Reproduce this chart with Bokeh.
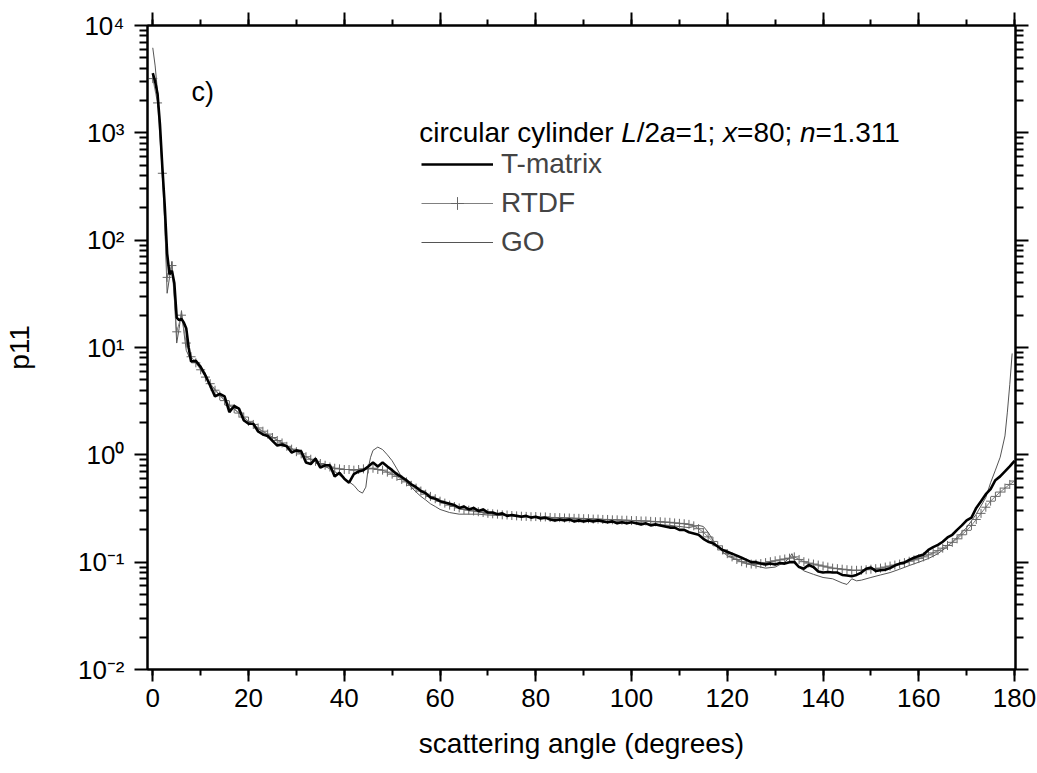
import math
from bokeh.plotting import figure
from bokeh.models import (Range1d, LinearAxis, LogAxis, FixedTicker, SingleIntervalTicker,
                          CustomJSTickFormatter, Legend, LegendItem, Label)
from bokeh.embed import file_html
from bokeh.resources import INLINE

# ---------------- data ----------------
tm_angle = [0, 0.5, 1, 1.5, 2, 2.5, 3, 3.5, 4, 4.5, 5, 5.5, 6, 6.5, 7, 7.5,
            8, 9, 10, 11, 12, 13, 14, 15, 16, 17, 18, 19, 20, 21, 22, 23, 24, 25,
            26, 27, 28, 29, 30, 31, 32, 33, 34, 35, 36, 37, 38, 39, 40, 41, 42, 43,
            44, 45, 46, 47, 48, 49, 50, 51, 52, 53, 54, 55, 56, 57, 58, 59, 60, 61,
            62, 63, 64, 65, 66, 67, 68, 69, 70, 71, 72, 73, 74, 75, 76, 77, 78, 79,
            80, 81, 82, 83, 84, 85, 86, 87, 88, 89, 90, 91, 92, 93, 94, 95, 96, 97,
            98, 99, 100, 101, 102, 103, 104, 105, 106, 107, 108, 109, 110, 111, 112,
            113, 114, 115, 116, 117, 118, 119, 120, 121, 122, 123, 124, 125, 126, 127,
            128, 129, 130, 131, 132, 133, 134, 135, 136, 137, 138, 139, 140, 141, 142,
            143, 144, 145, 146, 147, 148, 149, 150, 151, 152, 153, 154, 155, 156, 157,
            158, 159, 160, 161, 162, 163, 164, 165, 166, 167, 168, 169, 170, 171, 172,
            173, 174, 175, 176, 177, 178, 179, 180]
tm_p11 = [3600, 3000, 2300, 1200, 480, 210, 75, 48, 52, 40, 19, 18, 18.5, 17, 15, 10,
          7.4, 7.5, 6.6, 5.5, 4.4, 3.5, 3.7, 3.5, 2.5, 2.85, 2.7, 2.1, 1.95, 1.95, 1.65,
          1.55, 1.5, 1.35, 1.22, 1.25, 1.2, 1.05, 1.1, 1.08, 0.85, 0.82, 0.92, 0.76, 0.8,
          0.8, 0.63, 0.68, 0.6, 0.55, 0.66, 0.7, 0.72, 0.78, 0.85, 0.78, 0.85, 0.78, 0.72,
          0.66, 0.62, 0.58, 0.53, 0.5, 0.46, 0.44, 0.4, 0.39, 0.37, 0.36, 0.35, 0.34, 0.32,
          0.33, 0.31, 0.32, 0.3, 0.31, 0.29, 0.29, 0.28, 0.285, 0.27, 0.275, 0.27, 0.265,
          0.27, 0.26, 0.265, 0.255, 0.26, 0.25, 0.245, 0.25, 0.245, 0.25, 0.24, 0.245, 0.24,
          0.245, 0.24, 0.245, 0.24, 0.235, 0.24, 0.23, 0.235, 0.23, 0.235, 0.23, 0.225, 0.23,
          0.22, 0.225, 0.22, 0.215, 0.21, 0.21, 0.2, 0.2, 0.19, 0.185, 0.18, 0.165, 0.155,
          0.15, 0.14, 0.13, 0.125, 0.12, 0.115, 0.11, 0.105, 0.1, 0.1, 0.097, 0.095, 0.097,
          0.095, 0.098, 0.097, 0.1, 0.1, 0.09, 0.087, 0.094, 0.09, 0.082, 0.08, 0.081, 0.08,
          0.08, 0.076, 0.075, 0.074, 0.076, 0.08, 0.087, 0.089, 0.083, 0.084, 0.085, 0.088,
          0.093, 0.097, 0.099, 0.105, 0.11, 0.114, 0.118, 0.13, 0.138, 0.145, 0.155, 0.17,
          0.18, 0.2, 0.22, 0.245, 0.26, 0.32, 0.37, 0.43, 0.48, 0.58, 0.63, 0.7, 0.78, 0.88]

rtdf_angle = list(range(0, 181))
rtdf_p11 = [3200, 1900, 420, 45, 58, 14, 20, 11, 8.2, 7.2,
            6.2, 5.3, 4.6, 4.0, 3.55, 3.2, 2.9, 2.7, 2.45, 2.25,
            2.05, 1.92, 1.78, 1.66, 1.56, 1.45, 1.36, 1.29, 1.2, 1.13,
            1.07, 1.02, 0.96, 0.91, 0.87, 0.83, 0.8, 0.77, 0.75, 0.74,
            0.73, 0.73, 0.72, 0.73, 0.74, 0.74, 0.75, 0.73, 0.72, 0.69,
            0.66, 0.63, 0.59, 0.56, 0.52, 0.49, 0.46, 0.43, 0.41, 0.39,
            0.37, 0.355, 0.34, 0.33, 0.32, 0.31, 0.305, 0.3, 0.295, 0.29,
            0.285, 0.282, 0.28, 0.276, 0.275, 0.272, 0.27, 0.268, 0.267, 0.265,
            0.266, 0.263, 0.264, 0.261, 0.26, 0.26, 0.258, 0.258, 0.256, 0.256,
            0.254, 0.254, 0.252, 0.252, 0.25, 0.25, 0.248, 0.248, 0.246, 0.246,
            0.244, 0.244, 0.242, 0.242, 0.24, 0.238, 0.238, 0.236, 0.235, 0.232,
            0.23, 0.228, 0.225, 0.218, 0.205, 0.19, 0.172, 0.156, 0.142, 0.13,
            0.12, 0.112, 0.106, 0.101, 0.098, 0.096, 0.096, 0.097, 0.099, 0.101,
            0.103, 0.105, 0.107, 0.109, 0.112, 0.106, 0.101, 0.098, 0.096, 0.094,
            0.092, 0.09, 0.088, 0.087, 0.086, 0.085, 0.084, 0.084, 0.084, 0.085,
            0.086, 0.087, 0.088, 0.09, 0.092, 0.094, 0.096, 0.099, 0.102, 0.105,
            0.108, 0.112, 0.117, 0.122, 0.128, 0.135, 0.143, 0.153, 0.165, 0.18,
            0.198, 0.22, 0.25, 0.285, 0.325, 0.37, 0.41, 0.45, 0.49, 0.53,
            0.57]

go_angle = [0, 0.5, 1, 1.5, 2, 2.5, 3, 3.5, 4, 4.5, 5, 5.5, 6, 6.5, 7, 8, 9, 10, 12,
            14, 16, 18, 20, 22, 24, 26, 28, 30, 32, 34, 36, 38, 40, 41, 42, 43, 43.8,
            44.5, 45, 45.5, 46, 47, 48, 49, 50, 51, 52, 53, 54, 55, 56, 57, 58, 59, 60,
            62, 64, 66, 68, 70, 75, 80, 85, 90, 95, 100, 105, 108, 110, 112, 113, 114,
            115, 116, 117, 118, 119, 120, 122, 124, 126, 128, 130, 131, 132, 133, 133.5,
            134, 135, 136, 138, 140, 142, 144, 145, 146, 147, 148, 150, 152, 154, 156,
            158, 160, 162, 164, 166, 168, 170, 172, 174, 175, 176, 177, 178, 178.5, 179,
            179.5]
go_p11 = [6200, 4200, 2400, 1200, 500, 150, 32, 45, 63, 30, 11, 15, 22, 14, 9.4, 7.5,
          7.2, 6.3, 4.6, 3.6, 2.9, 2.45, 2.05, 1.75, 1.55, 1.38, 1.22, 1.08, 0.96, 0.86,
          0.78, 0.7, 0.6, 0.56, 0.52, 0.46, 0.44, 0.5, 0.75, 0.95, 1.1, 1.18, 1.12, 1.0,
          0.88, 0.74, 0.62, 0.55, 0.5, 0.45, 0.41, 0.38, 0.35, 0.33, 0.31, 0.29, 0.28,
          0.28, 0.28, 0.275, 0.27, 0.26, 0.25, 0.245, 0.24, 0.235, 0.225, 0.22, 0.215,
          0.21, 0.215, 0.22, 0.215, 0.19, 0.16, 0.14, 0.125, 0.115, 0.105, 0.097, 0.092,
          0.088, 0.09, 0.095, 0.1, 0.11, 0.12, 0.105, 0.09, 0.083, 0.077, 0.072, 0.07,
          0.064, 0.062, 0.07, 0.067, 0.068, 0.072, 0.076, 0.08, 0.086, 0.093, 0.1, 0.108,
          0.12, 0.14, 0.17, 0.21, 0.28, 0.4, 0.55, 0.72, 0.95, 1.5, 2.5, 4.5, 8.8]

x_major_step = 20
y_major_ticks = [1e-2, 1e-1, 1e0, 1e1, 1e2, 1e3, 1e4]
legend_title = [("circular cylinder ", "normal"), ("L", "italic"), ("/2", "normal"),
                ("a", "italic"), ("=1; ", "normal"), ("x", "italic"), ("=80; ", "normal"),
                ("n", "italic"), ("=1.311", "normal")]

# ---------------- layout / style ----------------
W, H = 1037, 773
FL, FR, FT, FB = 146, 1015, 25, 669
X0, X1 = -1.1, 180.2
LY0, LY1 = -2, 4
FONT = "Liberation Sans"
TICK_FS = "26px"
TITLE_FS = "28px"
LEG_FS = 28

def px2x(px):
    return X0 + (px - FL) * (X1 - X0) / (FR - FL)

def py2y(py):
    return 10 ** (LY1 - (py - FT) * (LY1 - LY0) / (FB - FT))

p = figure(width=W, height=H, x_range=Range1d(X0, X1),
           y_range=Range1d(10 ** LY0, 10 ** LY1), y_axis_type="log",
           output_backend="svg", toolbar_location=None,
           min_border_left=FL, min_border_right=W - FR,
           min_border_top=FT, min_border_bottom=H - FB)
p.xgrid.visible = False
p.ygrid.visible = False
p.outline_line_color = "black"
p.outline_line_width = 2
p.background_fill_color = "white"
p.border_fill_color = "white"

minor_y = [m * 10 ** k for k in range(LY0, LY1) for m in range(2, 10)]

def style_axis(ax, major_out, minor_out):
    ax.axis_line_width = 2
    ax.axis_line_color = "black"
    ax.major_tick_line_width = 2
    ax.minor_tick_line_width = 2
    ax.major_tick_in = 0
    ax.minor_tick_in = 0
    ax.major_tick_out = major_out
    ax.minor_tick_out = minor_out
    ax.major_label_text_font = FONT
    ax.major_label_text_font_size = TICK_FS
    ax.major_label_text_color = "black"
    ax.axis_label_text_font = FONT
    ax.axis_label_text_font_size = TITLE_FS
    ax.axis_label_text_font_style = "normal"
    ax.axis_label_text_color = "black"

empty_fmt = CustomJSTickFormatter(code="return '';")

# bottom x axis
xa = p.xaxis[0]
xa.ticker = SingleIntervalTicker(interval=x_major_step, num_minor_ticks=2)
xa.axis_label = "scattering angle (degrees)"
style_axis(xa, 12, 6)
xa.major_label_standoff = 7
xa.axis_label_standoff = 18

# top x axis
xt = LinearAxis(ticker=SingleIntervalTicker(interval=x_major_step, num_minor_ticks=2),
                formatter=empty_fmt)
style_axis(xt, 13, 6)
p.add_layout(xt, "above")

# left y axis
ya = p.yaxis[0]
ya.ticker = FixedTicker(ticks=y_major_ticks, minor_ticks=minor_y)
ya.formatter = CustomJSTickFormatter(code="""
const e = Math.round(Math.log10(tick));
const sup = {'-':'\u207b','0':'\u2070','1':'\u00b9','2':'\u00b2','3':'\u00b3','4':'\u2074',
             '5':'\u2075','6':'\u2076','7':'\u2077','8':'\u2078','9':'\u2079'};
return '10' + String(e).split('').map(c => sup[c]).join('');
""")
ya.axis_label = "p11"
style_axis(ya, 13, 8)
ya.major_label_standoff = 10
ya.axis_label_standoff = 40

# right y axis
yr = LogAxis(ticker=FixedTicker(ticks=y_major_ticks, minor_ticks=minor_y), formatter=empty_fmt)
style_axis(yr, 13, 8)
p.add_layout(yr, "right")

# ---------------- curves ----------------
go = p.line(go_angle, go_p11, line_color="#555555", line_width=1)
rt_line = p.line(rtdf_angle, rtdf_p11, line_color="#808080", line_width=1)
rt_mark = p.scatter(rtdf_angle, rtdf_p11, marker="cross", size=9,
                    line_color="#666666", line_width=1)
tm = p.line(tm_angle, tm_p11, line_color="black", line_width=2.6)

# ---------------- legend ----------------
legend = Legend(items=[LegendItem(label="T-matrix", renderers=[tm]),
                       LegendItem(label="RTDF", renderers=[rt_line, rt_mark]),
                       LegendItem(label="GO", renderers=[go])],
                location=(420 - FL, FB - 258),
                border_line_color=None, background_fill_alpha=0,
                padding=0, margin=0, spacing=7,
                glyph_width=72, glyph_height=32, label_height=32,
                label_standoff=8, label_text_font=FONT,
                label_text_font_size=f"{LEG_FS}px")
p.add_layout(legend)

# legend title with italic symbols (Arial/Liberation advance widths, em units)
ADV = {' ': .278, 'c': .5, 'i': .222, 'r': .333, 'u': .556, 'l': .222, 'a': .556,
       'y': .5, 'n': .556, 'd': .556, 'e': .556, 'L': .556, '/': .278, '2': .556,
       '=': .584, '1': .556, ';': .278, 'x': .5, '8': .556, '0': .556, '.': .278,
       '3': .556}
cur = 418.0
base_y = py2y(132)
for txt, style in legend_title:
    p.add_layout(Label(x=px2x(cur), y=base_y, text=txt, text_font=FONT,
                       text_font_size=f"{LEG_FS}px", text_font_style=style,
                       text_color="black", text_baseline="alphabetic", text_align="left"))
    cur += sum(ADV[ch] for ch in txt) * LEG_FS

p.add_layout(Label(x=px2x(190), y=py2y(91), text="c)", text_font=FONT,
                   text_font_size="27px", text_color="black",
                   text_baseline="alphabetic", text_align="left"))

open("out.html", "w").write(file_html(p, INLINE))
